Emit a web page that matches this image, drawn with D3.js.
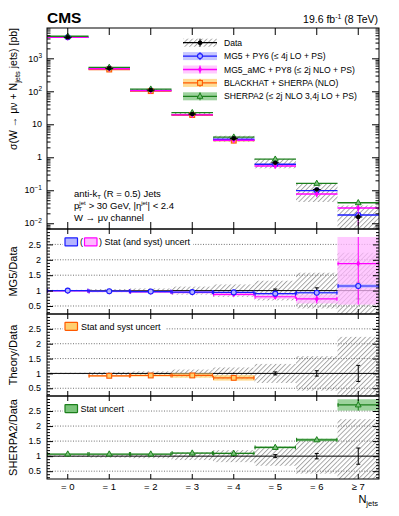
<!DOCTYPE html>
<html><head><meta charset="utf-8">
<script src="https://cdn.jsdelivr.net/npm/d3@7"></script>
<style>
body{margin:0;background:#fff}
text{font-family:"Liberation Sans",Arial,Helvetica,sans-serif;fill:#000}
</style>
</head><body>
<svg id="c" width="399" height="516"></svg>
<script>
// ---------------- DATA ----------------
const categories = ["= 0","= 1","= 2","= 3","= 4","= 5","= 6","≥ 7"];
const dataXsec     = [4350, 497, 109, 20.5, 3.75, 0.68, 0.105, 0.0155];
const dataTotUnc   = [0.025, 0.05, 0.07, 0.13, 0.20, 0.32, 0.58, 1.23];
const dataStatUnc  = [0.002, 0.004, 0.006, 0.012, 0.025, 0.05, 0.09, 0.27];
const mg5Xsec      = [4350, 487, 105.7, 19.5, 3.53, 0.612, 0.0977, 0.0178];
const mg5RelUnc    = [0.01, 0.01, 0.01, 0.015, 0.02, 0.03, 0.04, 0.05];
const amcXsec      = [4307, 482, 104.6, 19.3, 3.30, 0.544, 0.0767, 0.0291];
const amcRelUncLo  = [0.02, 0.03, 0.04, 0.05, 0.06, 0.09, 0.20, 0.71];
const amcRelUncHi  = [0.02, 0.03, 0.04, 0.05, 0.06, 0.09, 0.20, 0.46];
const bhXsec       = [null, 457, 101.4, 19.1, 3.19, null, null, null];
const bhRelUnc     = [null, 0.03, 0.04, 0.08, 0.11, null, null, null];
const sherpaXsec   = [4655, 532, 116.6, 22.6, 4.09, 0.877, 0.162, 0.0419];
const sherpaRelUnc = [0.01, 0.01, 0.01, 0.015, 0.02, 0.025, 0.03, 0.07];
const logTickValues = [0.01, 0.1, 1, 10, 100, 1000];
const logTickBase   = ["10", "10", "1", "10", "10", "10"];
const logTickExp    = ["−2", "−1", "", "", "2", "3"];
const ratioTickValues = [0.5, 1, 1.5, 2, 2.5];
const ratioTickLabels = ["0.5", "1", "1.5", "2", "2.5"];
const legendLabels = ["Data","MG5 + PY6 (≤ 4j LO + PS)","MG5_aMC + PY8 (≤ 2j NLO + PS)","BLACKHAT + SHERPA (NLO)","SHERPA2 (≤ 2j NLO 3,4j LO + PS)"];

// ---------------- STYLE ----------------
const C = {
  blue:"#1a1aff", blueBand:"#b4b4ff",
  mag:"#ff00ff", magBand:"#ffb8ff",
  orange:"#ff5a00", orangeBand:"#ffd070",
  green:"#1b7f1b", greenBand:"#7cc47c",
  hatch:"#555"
};
const svg = d3.select("#c");
const X0 = 47, X1 = 379;
const x = d3.scaleBand().domain(categories).range([X0, X1]).padding(0);
const bw = x.bandwidth();
const cx = c => x(c) + bw/2;

const P = { top:[28,229], mg:[229,314], th:[314,396], sh:[396,479] };
const yTop = d3.scaleLog().domain([0.0067, 8300]).range([P.top[1], P.top[0]]);
const rDom = [0.24, 3.0];
const yMG = d3.scaleLinear().domain(rDom).range([P.mg[1], P.mg[0]]);
const yTH = d3.scaleLinear().domain(rDom).range([P.th[1], P.th[0]]);
const ySH = d3.scaleLinear().domain(rDom).range([P.sh[1], P.sh[0]]);

const defs = svg.append("defs");
const pat = defs.append("pattern").attr("id","hatch").attr("patternUnits","userSpaceOnUse")
  .attr("width",3.4).attr("height",6).attr("patternTransform","rotate(45)");
pat.append("line").attr("x1",0.5).attr("y1",0).attr("x2",0.5).attr("y2",6)
  .attr("stroke",C.hatch).attr("stroke-width",0.55);
Object.entries(P).forEach(([k,[a,b]])=>{
  defs.append("clipPath").attr("id","clip-"+k).append("rect")
    .attr("x",X0).attr("y",a).attr("width",X1-X0).attr("height",b-a);
});

// ---------------- MARKERS ----------------
function marker(g, type, px, py, color, fill){
  if(type==="dot") g.append("circle").attr("cx",px).attr("cy",py).attr("r",2.3).attr("fill","#000");
  else if(type==="circle") g.append("circle").attr("cx",px).attr("cy",py).attr("r",2.5)
      .attr("fill",fill).attr("stroke",color).attr("stroke-width",1.1);
  else if(type==="diamond") g.append("path").attr("d",`M${px},${py-3.3}L${px+2},${py}L${px},${py+3.3}L${px-2},${py}Z`)
      .attr("fill",color);
  else if(type==="square") g.append("rect").attr("x",px-2.4).attr("y",py-2.4).attr("width",4.8).attr("height",4.8)
      .attr("fill",fill).attr("stroke",color).attr("stroke-width",1.1);
  else if(type==="triangle") g.append("path").attr("d",`M${px},${py-3.2}L${px+2.9},${py+2}L${px-2.9},${py+2}Z`)
      .attr("fill",fill).attr("stroke",color).attr("stroke-width",1);
}
function vbar(g, px, y1, y2, color, w){
  g.append("line").attr("x1",px).attr("x2",px).attr("y1",y1).attr("y2",y2)
   .attr("stroke",color).attr("stroke-width",w||1);
}
function hline(g, xa, xb, py, color, w){
  g.append("line").attr("x1",xa).attr("x2",xb).attr("y1",py).attr("y2",py)
   .attr("stroke",color).attr("stroke-width",w||1.2);
}

// ---------------- TOP PANEL ----------------
const gTop = svg.append("g").attr("clip-path","url(#clip-top)");
categories.forEach((c,i)=>{
  const lo = Math.max(dataXsec[i]*(1-dataTotUnc[i]), yTop.domain()[0]);
  const hi = dataXsec[i]*(1+dataTotUnc[i]);
  gTop.append("rect").attr("x",x(c)).attr("width",bw)
    .attr("y",yTop(hi)).attr("height",yTop(lo)-yTop(hi)).attr("fill","url(#hatch)");
});
const models = [
  {v:mg5Xsec, lo:mg5RelUnc, hi:mg5RelUnc, color:C.blue, band:C.blueBand, m:"circle"},
  {v:bhXsec, lo:bhRelUnc, hi:bhRelUnc, color:C.orange, band:C.orangeBand, m:"square"},
  {v:amcXsec, lo:amcRelUncLo, hi:amcRelUncHi, color:C.mag, band:C.magBand, m:"diamond"},
  {v:sherpaXsec, lo:sherpaRelUnc, hi:sherpaRelUnc, color:C.green, band:C.greenBand, m:"triangle"}
];
models.forEach(M=>{
  categories.forEach((c,i)=>{
    if(M.v[i]==null) return;
    hline(gTop, x(c), x(c)+bw, yTop(M.v[i]), M.color, 1.4);
  });
});
models.forEach(M=>{
  categories.forEach((c,i)=>{
    if(M.v[i]==null) return;
    const lo = Math.max(M.v[i]*(1-M.lo[i]), yTop.domain()[0]);
    vbar(gTop, cx(c), yTop(M.v[i]*(1+M.hi[i])), yTop(lo), M.color, 1);
    marker(gTop, M.m, cx(c), yTop(M.v[i]), M.color, M.band);
  });
});
categories.forEach((c,i)=>{
  vbar(gTop, cx(c), yTop(dataXsec[i]*(1+dataStatUnc[i])), yTop(dataXsec[i]*(1-dataStatUnc[i])), "#000", 1);
  hline(gTop, cx(c)-4, cx(c)+4, yTop(dataXsec[i]), "#000", 1);
  marker(gTop, "dot", cx(c), yTop(dataXsec[i]));
});

// ---------------- RATIO PANELS ----------------
function ratioBase(key, y){
  const g = svg.append("g").attr("clip-path",`url(#clip-${key})`);
  ratioTickValues.filter(v=>v!==1).forEach(v=>{
    g.append("line").attr("x1",X0).attr("x2",X1).attr("y1",y(v)).attr("y2",y(v))
      .attr("stroke","#333").attr("stroke-width",0.7).attr("stroke-dasharray","1,1.6");
  });
  categories.forEach((c,i)=>{
    const hi = 1+dataTotUnc[i], lo = Math.max(1-dataTotUnc[i], rDom[0]);
    g.append("rect").attr("x",x(c)).attr("width",bw).attr("y",y(hi)).attr("height",y(lo)-y(hi))
      .attr("fill","url(#hatch)");
  });
  hline(g, X0, X1, y(1), "#000", 1);
  categories.forEach((c,i)=>{
    const s = dataStatUnc[i];
    vbar(g, cx(c), y(1+s), y(1-s), "#000", 1);
    if(s>0.03){ hline(g, cx(c)-2, cx(c)+2, y(1+s), "#000", 1); hline(g, cx(c)-2, cx(c)+2, y(1-s), "#000", 1); }
  });
  return g;
}
function ratioModel(g, y, M, drawBar){
  categories.forEach((c,i)=>{
    if(M.v[i]==null) return;
    const r = M.v[i]/dataXsec[i];
    g.append("rect").attr("x",x(c)).attr("width",bw)
      .attr("y",y(r*(1+M.hi[i]))).attr("height",Math.max(y(r*(1-M.lo[i]))-y(r*(1+M.hi[i])),1))
      .attr("fill",M.band).attr("opacity",0.75);
  });
  categories.forEach((c,i)=>{
    if(M.v[i]==null) return;
    const r = M.v[i]/dataXsec[i];
    hline(g, x(c), x(c)+bw, y(r), M.color, 1.2);
    vbar(g, x(c)+0.6, y(r)-2, y(r)+2, M.color, 1);
    vbar(g, x(c)+bw-0.6, y(r)-2, y(r)+2, M.color, 1);
    if(drawBar) vbar(g, cx(c), y(r*(1+M.hi[i])), y(r*(1-M.lo[i])), M.color, 1);
    marker(g, M.m, cx(c), y(r), M.color, M.band);
  });
}
const gMG = ratioBase("mg", yMG);
ratioModel(gMG, yMG, models[2], true);
ratioModel(gMG, yMG, models[0], false);
const gTH = ratioBase("th", yTH);
ratioModel(gTH, yTH, models[1], false);
const gSH = ratioBase("sh", ySH);
ratioModel(gSH, ySH, models[3], true);

// ---------------- AXES ----------------
const allMinor = yTop.ticks().filter(v=>Math.abs(Math.log10(v)-Math.round(Math.log10(v)))>1e-6);
function yAxes(scale, major, minor, bigLen, smallLen){
  svg.append("g").attr("transform",`translate(${X0},0)`)
    .call(d3.axisRight(scale).tickValues(major).tickSize(bigLen).tickFormat("").tickSizeOuter(0))
    .call(g=>g.select(".domain").remove());
  svg.append("g").attr("transform",`translate(${X0},0)`)
    .call(d3.axisRight(scale).tickValues(minor).tickSize(smallLen).tickFormat("").tickSizeOuter(0))
    .call(g=>g.select(".domain").remove());
  svg.append("g").attr("transform",`translate(${X1},0)`)
    .call(d3.axisLeft(scale).tickValues(major).tickSize(bigLen).tickFormat("").tickSizeOuter(0))
    .call(g=>g.select(".domain").remove());
  svg.append("g").attr("transform",`translate(${X1},0)`)
    .call(d3.axisLeft(scale).tickValues(minor).tickSize(smallLen).tickFormat("").tickSizeOuter(0))
    .call(g=>g.select(".domain").remove());
}
yAxes(yTop, logTickValues, allMinor, 7, 3.5);
const rMinor = d3.range(3, 30).map(k=>k/10).filter(v=>Math.abs(v*2-Math.round(v*2))>1e-6);
[yMG,yTH,ySH].forEach(s=>yAxes(s, ratioTickValues, rMinor, 6, 3));

Object.entries(P).forEach(([k,[a,b]])=>{
  const len = k==="top" ? 7 : 5;
  svg.append("g").attr("transform",`translate(0,${a})`)
    .call(d3.axisBottom(x).tickSize(len).tickFormat("").tickSizeOuter(0))
    .call(g=>g.select(".domain").remove());
  svg.append("g").attr("transform",`translate(0,${b})`)
    .call(d3.axisTop(x).tickSize(len).tickFormat("").tickSizeOuter(0))
    .call(g=>g.select(".domain").remove());
  svg.append("rect").attr("x",X0).attr("y",a).attr("width",X1-X0).attr("height",b-a)
    .attr("fill","none").attr("stroke","#000").attr("stroke-width",1);
});
svg.selectAll(".tick line").attr("stroke","#000");

// tick labels
logTickValues.forEach((v,i)=>{
  const t = svg.append("text").attr("x",42).attr("y",yTop(v)+3.2).attr("text-anchor","end").style("font-size","9px");
  t.append("tspan").text(logTickBase[i]);
  if(logTickExp[i]) t.append("tspan").attr("dy",-3.5).style("font-size","6.5px").text(logTickExp[i]);
});
[yMG,yTH,ySH].forEach(s=>{
  ratioTickValues.forEach((v,i)=>{
    svg.append("text").attr("x",41).attr("y",s(v)+3.2).attr("text-anchor","end").style("font-size","9px").text(ratioTickLabels[i]);
  });
});
categories.forEach(c=>{
  svg.append("text").attr("x",cx(c)).attr("y",490).attr("text-anchor","middle").style("font-size","9.5px").text(c);
});
// x title
const xt = svg.append("text").attr("x",378).attr("y",503).attr("text-anchor","end").style("font-size","11px");
xt.append("tspan").text("N");
xt.append("tspan").attr("dy",3).style("font-size","7.5px").text("jets");

// y titles
const yt = svg.append("text").attr("transform","translate(17,28) rotate(-90)").attr("text-anchor","end").style("font-size","10.5px");
yt.append("tspan").text("σ(W → μν + N");
yt.append("tspan").attr("dy",3).style("font-size","7.5px").text("jets");
yt.append("tspan").attr("dy",-3).text(" jets) [pb]");
[["MG5/Data",(P.mg[0]+P.mg[1])/2],["Theory/Data",(P.th[0]+P.th[1])/2],["SHERPA2/Data",(P.sh[0]+P.sh[1])/2]].forEach(([s,cy])=>{
  svg.append("text").attr("transform",`translate(17,${cy}) rotate(-90)`).attr("text-anchor","middle")
    .style("font-size","11px").text(s);
});

// header
svg.append("text").attr("x",47).attr("y",22.5).style("font-size","15.5px").style("font-weight","bold").text("CMS");
const lumi = svg.append("text").attr("x",378).attr("y",22.5).attr("text-anchor","end").style("font-size","10.5px");
lumi.append("tspan").text("19.6 fb");
lumi.append("tspan").attr("dy",-4).style("font-size","7px").text("-1");
lumi.append("tspan").attr("dy",4).text(" (8 TeV)");

// info text
const info = svg.append("g").style("font-size","9.5px");
const l1 = info.append("text").attr("x",74).attr("y",196.5);
l1.append("tspan").text("anti-k");
l1.append("tspan").attr("dy",2).style("font-size","6px").text("T");
l1.append("tspan").attr("dy",-2).text(" (R = 0.5) Jets");
const l2 = info.append("text").attr("x",74).attr("y",208.5);
l2.append("tspan").text("p");
l2.append("tspan").attr("dx",0).attr("dy",-3.3).style("font-size","6px").text("jet");
l2.append("tspan").attr("dx",-7.5).attr("dy",5.3).style("font-size","6px").text("T");
l2.append("tspan").attr("dx",4.2).attr("dy",-2).text(" > 30 GeV, |η");
l2.append("tspan").attr("dy",-3.3).style("font-size","6px").text("jet");
l2.append("tspan").attr("dy",3.3).text("| < 2.4");
const l3 = info.append("text").attr("x",74).attr("y",220.5).text("W → μν channel");

// top legend
const legSyms = [
  {m:"dot", color:"#000"},
  {m:"circle", color:C.blue, band:C.blueBand},
  {m:"diamond", color:C.mag, band:C.magBand},
  {m:"square", color:C.orange, band:C.orangeBand},
  {m:"triangle", color:C.green, band:C.greenBand}
];
legendLabels.forEach((lab,i)=>{
  const yc = 42.7 + i*13.4;
  const g = svg.append("g");
  if(i===0){
    g.append("rect").attr("x",183).attr("y",yc-4).attr("width",34).attr("height",8).attr("fill","url(#hatch)");
    hline(g,183,217,yc,"#000",1.2);
    vbar(g,200,yc-4,yc+4,"#000",1);
    marker(g,"dot",200,yc);
  } else {
    const s = legSyms[i];
    g.append("rect").attr("x",183).attr("y",yc-4).attr("width",34).attr("height",8).attr("fill",s.band).attr("opacity",0.75);
    hline(g,183,217,yc,s.color,1.3);
    vbar(g,200,yc-4,yc+4,s.color,1);
    marker(g,s.m,200,yc,s.color,s.band);
  }
  g.append("text").attr("x",224).attr("y",yc+3).style("font-size","8.6px").text(lab);
});

// ratio legends
function smallBox(px, py, fill, stroke){
  svg.append("rect").attr("x",px).attr("y",py-4).attr("width",12.5).attr("height",8)
    .attr("fill",fill).attr("stroke",stroke).attr("stroke-width",1.2).attr("rx",0.5);
}
svg.append("rect").attr("x",63).attr("y",yMG(2.5)-6).attr("width",130).attr("height",11).attr("fill","#fff");
smallBox(65, yMG(2.5)-2.5, C.blueBand, C.blue);
svg.append("text").attr("x",80).attr("y",yMG(2.5)+0.7).style("font-size","9px").text("(");
smallBox(84.5, yMG(2.5)-2.5, C.magBand, C.mag);
svg.append("text").attr("x",99).attr("y",yMG(2.5)+0.7).style("font-size","9px").text(")  Stat (and syst) uncert");

svg.append("rect").attr("x",63).attr("y",yTH(2.5)-6).attr("width",103).attr("height",11).attr("fill","#fff");
smallBox(65, yTH(2.5)-2.5, C.orangeBand, C.orange);
svg.append("text").attr("x",81).attr("y",yTH(2.5)+0.7).style("font-size","9px").text("Stat and syst uncert");

svg.append("rect").attr("x",63).attr("y",ySH(2.5)-6).attr("width",65).attr("height",11).attr("fill","#fff");
smallBox(65, ySH(2.5)-2.5, C.greenBand, C.green);
svg.append("text").attr("x",80.5).attr("y",ySH(2.5)+0.7).style("font-size","9px").text("Stat uncert");
</script>
</body></html>
